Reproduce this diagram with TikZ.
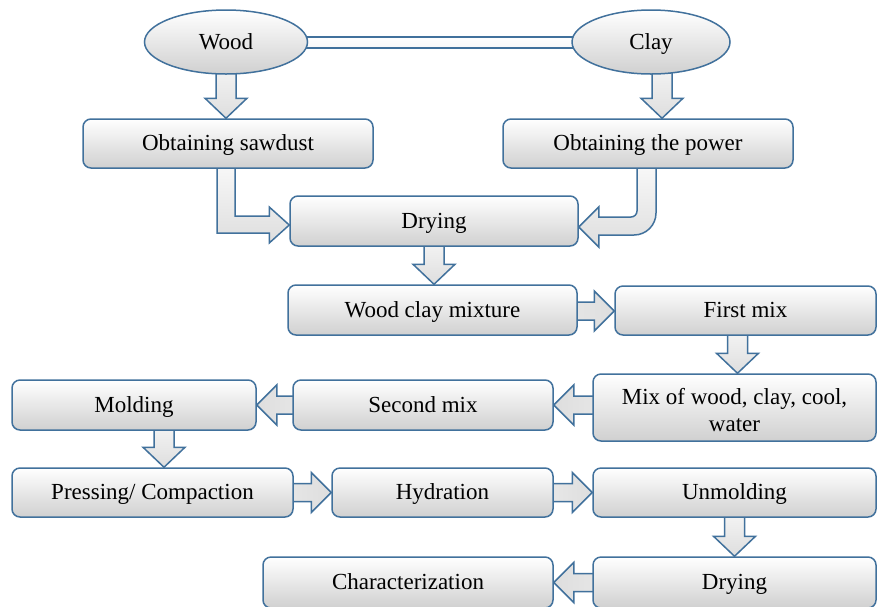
\documentclass[tikz,border=0pt]{standalone}
\usepackage{fontspec}
\setmainfont{Liberation Serif}
\usetikzlibrary{calc,shapes.geometric}
\definecolor{bc}{RGB}{65,113,156}
\definecolor{sh}{RGB}{208,208,208}
\definecolor{ash}{RGB}{222,222,222}
\pgfdeclarelayer{bg}
\pgfdeclarelayer{back}
\pgfsetlayers{back,bg,main}
\tikzset{
  box/.style={draw=bc, line width=1.5pt, rounded corners=8pt, top color=white, bottom color=sh,
    font=\fontsize{23}{27}\selectfont, inner sep=0pt, align=center, text height=16pt, text depth=1.6pt},
  ell/.style={ellipse, draw=bc, line width=1.5pt, top color=white, bottom color=sh,
    font=\fontsize{23}{27}\selectfont, inner sep=0pt, text height=16pt, text depth=1.6pt},
  arrv/.style={draw=bc, line width=1.5pt, top color=white, bottom color=ash},
  arrr/.style={draw=bc, line width=1.5pt, left color=white, right color=ash},
  arrl/.style={draw=bc, line width=1.5pt, left color=ash, right color=white},
  bar/.style={draw=bc, line width=1.5pt, top color=white, bottom color=white!85!sh},
}
\newcommand\arrD[2]{\path[arrv] let \p1=#1, \p2=#2 in
  (\x1-10pt,\y1) -- (\x1-10pt,\y2+20pt) -- (\x1-21pt,\y2+20pt) -- (\x1,\y2)
  -- (\x1+21pt,\y2+20pt) -- (\x1+10pt,\y2+20pt) -- (\x1+10pt,\y1) -- cycle;}
\newcommand\arrR[2]{\path[arrr] let \p1=#1, \p2=#2 in
  (\x1,\y1+9pt) -- (\x2-20pt,\y1+9pt) -- (\x2-20pt,\y1+20pt) -- (\x2,\y1)
  -- (\x2-20pt,\y1-20pt) -- (\x2-20pt,\y1-9pt) -- (\x1,\y1-9pt) -- cycle;}
\newcommand\arrL[2]{\path[arrl] let \p1=#1, \p2=#2 in
  (\x1,\y1+9pt) -- (\x2+20pt,\y1+9pt) -- (\x2+20pt,\y1+20pt) -- (\x2,\y1)
  -- (\x2+20pt,\y1-20pt) -- (\x2+20pt,\y1-9pt) -- (\x1,\y1-9pt) -- cycle;}
\begin{document}
\begin{tikzpicture}[x=1pt,y=-1pt]
\useasboundingbox (0,0) rectangle (877,606);
\begin{pgfonlayer}{back}
\fill[white] (0,0) rectangle (877,606);
\end{pgfonlayer}
% nodes
\node[ell, minimum width=163pt, minimum height=64pt] (wood) at (226,42) {Wood};
\node[ell, minimum width=158pt, minimum height=64pt] (clay) at (651,42) {Clay};
\node[box, minimum width=290pt, minimum height=49pt] (saw) at (228,143.5) {Obtaining sawdust};
\node[box, minimum width=290pt, minimum height=49pt] (pow) at (648,143.5) {Obtaining the power};
\node[box, minimum width=288pt, minimum height=50pt] (dry) at (434,221) {Drying};
\node[box, minimum width=289pt, minimum height=50pt] (wcm) at (432.5,310) {Wood clay mixture};
\node[box, minimum width=261pt, minimum height=49pt] (first) at (745.5,310.5) {First mix};
\node[box, minimum width=283pt, minimum height=67pt, text height=48pt, text depth=0pt] (mix) at (734.5,407.5) {Mix of wood, clay, cool,\\water};
\node[box, minimum width=260pt, minimum height=50pt] (sec) at (423,405) {Second mix};
\node[box, minimum width=244pt, minimum height=50pt] (mold) at (134,405) {Molding};
\node[box, minimum width=281pt, minimum height=49pt] (press) at (152.5,492.5) {Pressing/ Compaction};
\node[box, minimum width=221pt, minimum height=49pt] (hyd) at (442.5,492.5) {Hydration};
\node[box, minimum width=283pt, minimum height=49pt] (unm) at (734.5,492.5) {Unmolding};
\node[box, minimum width=283pt, minimum height=51pt] (dry2) at (734.5,582.5) {Drying};
\node[box, minimum width=290pt, minimum height=51pt] (char) at (408,582.5) {Characterization};
% connectors
\begin{pgfonlayer}{bg}
\path[bar] ($(wood.center)+(0,-5)$) rectangle ($(clay.center)+(0,6)$);
\arrD{(wood.center)}{(saw.north)}
\arrD{($(clay.center)+(11,0)$)}{(pow.north)}
\path[arrv] let \p1=(saw.center), \p2=(dry.west) in
  (\x1-11pt,\y1) -- (\x1-11pt,\y2-12pt) -- (\x2-20pt,\y2-12pt) -- (\x2-20pt,\y2-22pt)
  -- (\x2,\y2-4pt) -- (\x2-20pt,\y2+14pt) -- (\x2-20pt,\y2+5pt) -- (\x1+7pt,\y2+5pt)
  -- (\x1+7pt,\y1) -- cycle;
\path[arrv] let \p1=(pow.center), \p2=(dry.east) in
  (\x1+8pt,\y1) -- (\x1+8pt,\y2+8pt) arc[start angle=0, end angle=-90, radius=22pt]
  -- (\x2+20pt,\y2-14pt) -- (\x2+20pt,\y2-26pt) -- (\x2,\y2-6pt) -- (\x2+20pt,\y2+14pt)
  -- (\x2+20pt,\y2+4pt) -- (\x1-17pt,\y2+4pt) arc[start angle=-90, end angle=0, radius=6pt]
  -- (\x1-11pt,\y1) -- cycle;
\arrD{(dry.center)}{(wcm.north)}
\arrR{($(wcm.center)+(0,1)$)}{(first.west)}
\arrD{($(first.center)+(-8,0)$)}{(mix.north)}
\arrL{(mix.center |- sec.center)}{(sec.east)}
\arrL{(sec.center)}{(mold.east)}
\arrD{($(mold.center)+(30,0)$)}{(press.north)}
\arrR{(press.center)}{(hyd.west)}
\arrR{(hyd.center)}{(unm.west)}
\arrD{(unm.center)}{(dry2.north)}
\arrL{(dry2.center)}{(char.east)}
\end{pgfonlayer}
\end{tikzpicture}
\end{document}
